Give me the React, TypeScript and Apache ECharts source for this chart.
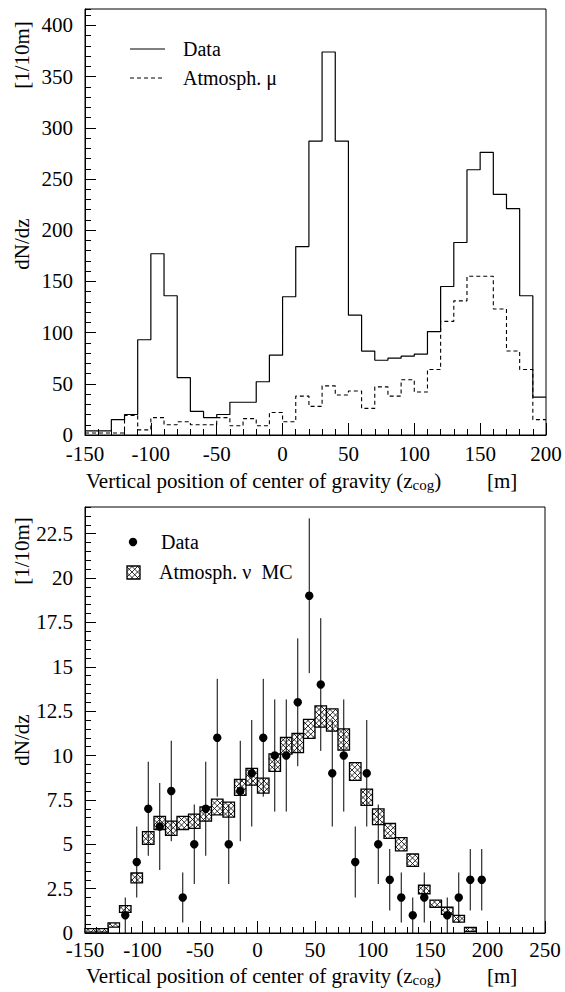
import React, { useEffect, useRef } from "react";
import * as echarts from "echarts";

// ---------- Top panel: muon-dominated sample (10 m bins) ----------
const binStarts = [-150, -140, -130, -120, -110, -100, -90, -80, -70, -60, -50, -40, -30, -20, -10, 0, 10, 20, 30, 40, 50, 60, 70, 80, 90, 100, 110, 120, 130, 140, 150, 160, 170, 180, 190];
const binEnd = 200;
const dataCounts = [4, 4, 15, 20, 93, 177, 136, 56, 23, 17, 20, 32, 32, 52, 78, 135, 184, 287, 374, 287, 117, 82, 73, 75, 77, 79, 101, 145, 188, 259, 276, 235, 221, 136, 37];
const muCounts = [2, 2, 2, 19, 5, 17, 10, 13, 10, 10, 17, 9, 16, 9, 22, 13, 38, 28, 48, 39, 43, 26, 47, 38, 54, 42, 64, 111, 131, 155, 155, 123, 82, 64, 15];

// ---------- Bottom panel: neutrino candidates ----------
const nuZ = [-115, -105, -95, -85, -75, -65, -55, -45, -35, -25, -15, -5, 5, 15, 25, 35, 45, 55, 65, 75, 85, 95, 105, 115, 125, 135, 145, 165, 175, 185, 195];
const nuN = [1, 4, 7, 6, 8, 2, 5, 7, 11, 5, 8, 9, 11, 10, 10, 13, 19, 14, 9, 10, 4, 9, 5, 3, 2, 1, 2, 1, 2, 3, 3];
const nuErr = [1, 2, 2.65, 2.45, 2.83, 1.41, 2.24, 2.65, 3.32, 2.24, 2.83, 3, 3.32, 3.16, 3.16, 3.6, 4.36, 3.74, 3, 3.16, 2, 3, 2.24, 1.73, 1.41, 1, 1.41, 1, 1.41, 1.73, 1.73];

const mcZ = [-145, -135, -125, -115, -105, -95, -85, -75, -65, -55, -45, -35, -25, -15, -5, 5, 15, 25, 35, 45, 55, 65, 75, 85, 95, 105, 115, 125, 135, 145, 155, 165, 175, 185];
const mcVal = [0.15, 0.15, 0.45, 1.35, 3.1, 5.35, 6.2, 5.9, 6.2, 6.3, 6.7, 7.1, 6.95, 8.2, 8.8, 8.3, 9.6, 10.55, 10.7, 11.5, 12.2, 12.0, 10.9, 9.1, 7.65, 6.55, 5.75, 5.0, 4.1, 2.45, 1.65, 1.25, 0.8, 0.2];
const mcErr = [0.1, 0.1, 0.12, 0.19, 0.28, 0.36, 0.37, 0.4, 0.37, 0.4, 0.4, 0.44, 0.42, 0.45, 0.47, 0.42, 0.49, 0.47, 0.54, 0.53, 0.6, 0.63, 0.6, 0.5, 0.46, 0.44, 0.42, 0.37, 0.35, 0.24, 0.2, 0.2, 0.19, 0.11];
const mcHalfWidth = 5;

const xTitle = "Vertical position of center of gravity (z";
const xTitleSub = "cog";
const yTitle = "dN/dz";
const yUnit = "[1/10m]";

const FONT = "Liberation Serif";

function hatch(x0: number, y0: number, x1: number, y1: number, s: number) {
  const segs: any[] = [];
  const ls = { stroke: "#000", lineWidth: 0.8 };
  for (let c = Math.floor((x0 - y1) / s) * s; c <= x1 - y0; c += s) {
    const ya = Math.max(y0, x0 - c);
    const yb = Math.min(y1, x1 - c);
    if (yb > ya) segs.push({ type: "line", shape: { x1: ya + c, y1: ya, x2: yb + c, y2: yb }, style: ls, silent: true });
  }
  for (let c = Math.floor((x0 + y0) / s) * s; c <= x1 + y1; c += s) {
    const ya = Math.max(y0, c - x1);
    const yb = Math.min(y1, c - x0);
    if (yb > ya) segs.push({ type: "line", shape: { x1: c - ya, y1: ya, x2: c - yb, y2: yb }, style: ls, silent: true });
  }
  return segs;
}

function hatchedBox(x0: number, y0: number, x1: number, y1: number) {
  return [
    { type: "rect", shape: { x: x0, y: y0, width: x1 - x0, height: y1 - y0 }, style: { fill: "#fff" } },
    ...hatch(x0, y0, x1, y1, 5.5),
    { type: "rect", shape: { x: x0, y: y0, width: x1 - x0, height: y1 - y0 }, style: { fill: "none", stroke: "#000", lineWidth: 1.3 } },
  ];
}

function xAxisCfg(gridIndex: number, min: number, max: number, margin: number) {
  return {
    type: "value",
    gridIndex,
    min,
    max,
    interval: 50,
    axisLine: { show: true, onZero: false, lineStyle: { color: "#000", width: 1 } },
    axisTick: { show: true, inside: true, length: 12, lineStyle: { color: "#000", width: 1 } },
    minorTick: { show: true, splitNumber: 5, length: 6, lineStyle: { color: "#000", width: 1 } },
    splitLine: { show: false },
    minorSplitLine: { show: false },
    axisLabel: { color: "#000", fontFamily: FONT, fontSize: 21, lineHeight: 16, margin },
  };
}

function yMajorCfg(gridIndex: number, max: number, interval: number) {
  return {
    type: "value",
    gridIndex,
    position: "left",
    min: 0,
    max,
    interval,
    axisLine: { show: true, onZero: false, lineStyle: { color: "#000", width: 1 } },
    axisTick: { show: true, inside: true, length: 11, lineStyle: { color: "#000", width: 1 } },
    splitLine: { show: false },
    axisLabel: { color: "#000", fontFamily: FONT, fontSize: 21, lineHeight: 16, margin: 12, showMaxLabel: false },
  };
}

function yMinorCfg(gridIndex: number, max: number, interval: number) {
  return {
    type: "value",
    gridIndex,
    position: "left",
    offset: 0,
    min: 0,
    max,
    interval,
    axisLine: { show: false, onZero: false },
    axisTick: { show: true, inside: true, length: 6, lineStyle: { color: "#000", width: 1 } },
    splitLine: { show: false },
    axisLabel: { show: false },
  };
}

function stepData(vals: number[]) {
  const d = binStarts.map((x, i) => [x, vals[i]]);
  d.push([binEnd, vals[vals.length - 1]]);
  return d;
}

function xTitleGraphic(y: number) {
  return [
    {
      type: "text",
      x: 86,
      y,
      style: {
        text: "{a|" + xTitle + "}{b|" + xTitleSub + "}{a|)}",
        verticalAlign: "middle",
        rich: {
          a: { fontFamily: FONT, fontSize: 21, lineHeight: 22, fill: "#000" },
          b: { fontFamily: FONT, fontSize: 15, lineHeight: 12, verticalAlign: "bottom", fill: "#000" },
        },
      },
    },
    { type: "text", x: 487, y, style: { text: "[m]", fontFamily: FONT, fontSize: 21, fill: "#000", verticalAlign: "middle" } },
  ];
}

function yTitleGraphic(yUnitC: number, yTitleC: number) {
  return [
    { type: "text", x: 22, y: yUnitC, rotation: Math.PI / 2, style: { text: yUnit, fontFamily: FONT, fontSize: 21, fill: "#000", align: "center", verticalAlign: "middle" } },
    { type: "text", x: 22, y: yTitleC, rotation: Math.PI / 2, style: { text: yTitle, fontFamily: FONT, fontSize: 21, fill: "#000", align: "center", verticalAlign: "middle" } },
  ];
}

export default function App() {
  const ref = useRef<HTMLDivElement>(null);
  useEffect(() => {
    if (!ref.current) return;
    const chart = echarts.init(ref.current, undefined, { renderer: "svg" });
    const option: any = {
      animation: false,
      backgroundColor: "#fff",
      textStyle: { fontFamily: FONT },
      grid: [
        { left: 85, top: 9, width: 461, height: 426, show: true, borderColor: "#000", borderWidth: 1, backgroundColor: "transparent" },
        { left: 85, top: 507, width: 460, height: 426, show: true, borderColor: "#000", borderWidth: 1, backgroundColor: "transparent" },
      ],
      xAxis: [xAxisCfg(0, -150, 200, 11), xAxisCfg(1, -150, 250, 9)],
      yAxis: [yMajorCfg(0, 416, 50), yMinorCfg(0, 416, 10), yMajorCfg(1, 24, 2.5), yMinorCfg(1, 24, 0.5)],
      series: [
        {
          type: "line",
          name: "Data",
          xAxisIndex: 0,
          yAxisIndex: 0,
          step: "end",
          symbol: "none",
          data: stepData(dataCounts),
          lineStyle: { color: "#000", width: 1.2 },
        },
        {
          type: "line",
          name: "Atmosph. μ",
          xAxisIndex: 0,
          yAxisIndex: 0,
          step: "end",
          symbol: "none",
          data: stepData(muCounts),
          lineStyle: { color: "#000", width: 1.1, type: [4, 3] },
        },
        {
          type: "custom",
          name: "Atmosph. ν MC",
          xAxisIndex: 1,
          yAxisIndex: 2,
          data: mcZ.map((z, i) => [z, mcVal[i], mcErr[i]]),
          renderItem: (_p: any, api: any) => {
            const z = api.value(0), v = api.value(1), e = api.value(2);
            const tl = api.coord([z - mcHalfWidth, v + e]);
            const br = api.coord([z + mcHalfWidth, v - e]);
            return { type: "group", children: hatchedBox(tl[0], tl[1], br[0], br[1]) };
          },
          z: 2,
        },
        {
          type: "custom",
          name: "Data ν",
          xAxisIndex: 1,
          yAxisIndex: 2,
          data: nuZ.map((z, i) => [z, nuN[i], nuErr[i]]),
          renderItem: (_p: any, api: any) => {
            const z = api.value(0), n = api.value(1), e = api.value(2);
            const c = api.coord([z, n]);
            const lo = api.coord([z, n - e]);
            const hi = api.coord([z, n + e]);
            return {
              type: "group",
              children: [
                { type: "line", shape: { x1: c[0], y1: lo[1], x2: c[0], y2: hi[1] }, style: { stroke: "#000", lineWidth: 1 } },
                { type: "circle", shape: { cx: c[0], cy: c[1], r: 4.2 }, style: { fill: "#000" } },
              ],
            };
          },
          z: 3,
        },
      ],
      graphic: [
        // top legend
        { type: "line", shape: { x1: 130, y1: 49, x2: 165, y2: 49 }, style: { stroke: "#000", lineWidth: 1.2 } },
        { type: "text", x: 183, y: 49, style: { text: "Data", fontFamily: FONT, fontSize: 20, fill: "#000", verticalAlign: "middle" } },
        { type: "line", shape: { x1: 130, y1: 78, x2: 165, y2: 78 }, style: { stroke: "#000", lineWidth: 1.1, lineDash: [4, 3] } },
        { type: "text", x: 183, y: 78, style: { text: "Atmosph. μ", fontFamily: FONT, fontSize: 20, fill: "#000", verticalAlign: "middle" } },
        // bottom legend
        { type: "circle", shape: { cx: 133, cy: 542, r: 4.2 }, style: { fill: "#000" } },
        { type: "text", x: 161, y: 542, style: { text: "Data", fontFamily: FONT, fontSize: 20, fill: "#000", verticalAlign: "middle" } },
        { type: "group", children: hatchedBox(127, 566, 140, 579) },
        { type: "text", x: 159, y: 572, style: { text: "Atmosph. ν  MC", fontFamily: FONT, fontSize: 20, fill: "#000", verticalAlign: "middle" } },
        ...xTitleGraphic(481),
        ...xTitleGraphic(976),
        ...yTitleGraphic(55, 244),
        ...yTitleGraphic(551, 740),
      ],
    };
    chart.setOption(option);
    return () => chart.dispose();
  }, []);
  return <div ref={ref} style={{ position: "absolute", left: 0, top: 0, width: 565, height: 992 }} />;
}
